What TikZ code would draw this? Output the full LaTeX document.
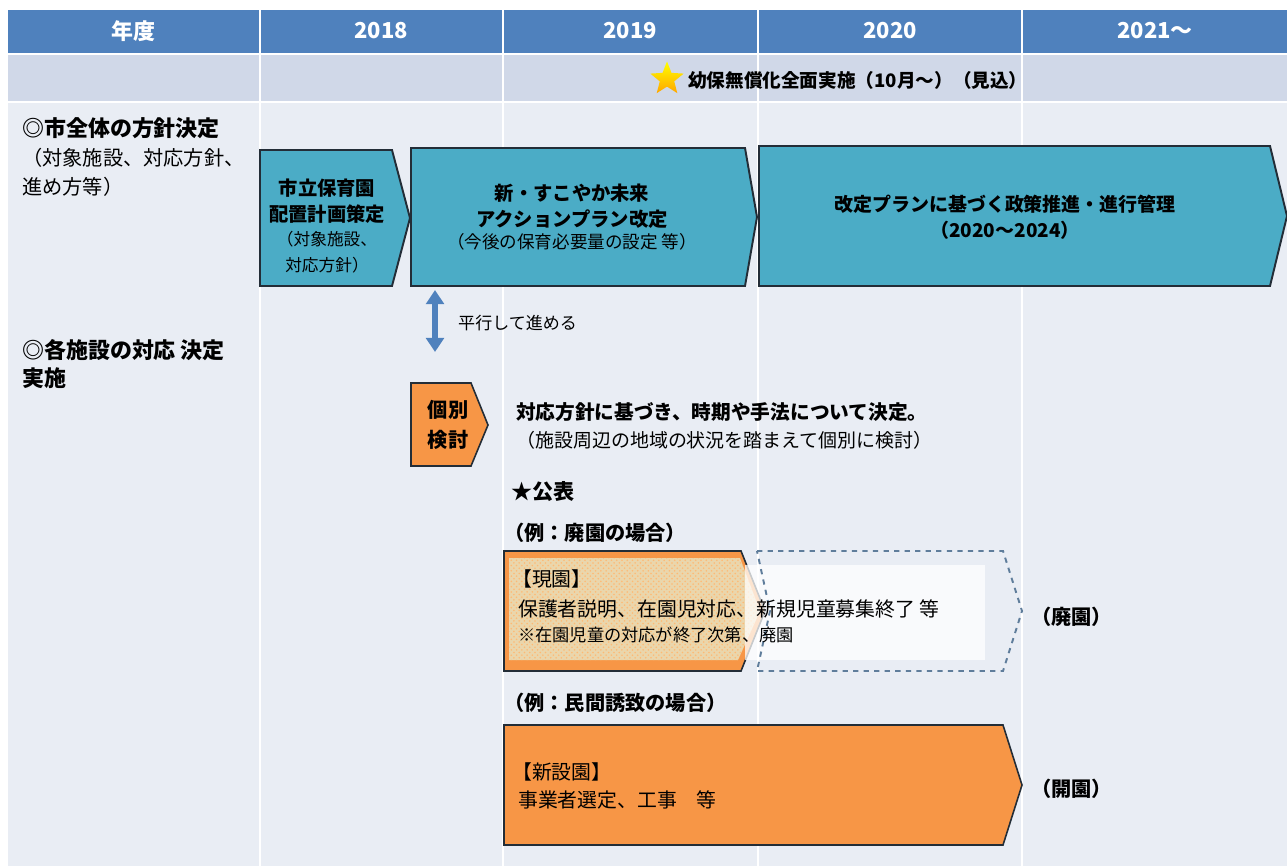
\documentclass[tikz,border=0pt]{standalone}
\usepackage{fontspec}
\setmainfont{Noto Sans CJK JP}
\usetikzlibrary{positioning, arrows.meta, shapes.geometric, patterns}
\definecolor{hdblue}{RGB}{79,129,189}
\definecolor{rowlav}{RGB}{208,216,232}
\definecolor{bodybg}{RGB}{233,237,244}
\definecolor{planteal}{RGB}{75,172,198}
\definecolor{steporange}{RGB}{247,150,70}
\definecolor{edgedark}{RGB}{35,45,55}
\definecolor{dashgray}{RGB}{95,125,155}
\definecolor{beige}{RGB}{234,214,172}
\newcommand{\fsz}[1]{\fontsize{#1}{1.35\dimexpr#1pt\relax}\selectfont}
\tikzset{
    hdcell/.style={text=white, font=\fsz{12.5}\bfseries},
    planbox/.style={fill=planteal, draw=edgedark, line width=1.1pt},
    stepbox/.style={fill=steporange, draw=edgedark, line width=0.9pt},
    planoutline/.style={draw=dashgray, dashed, line width=1.1pt},
    plantext/.style={align=center, font=\fsz{11}\bfseries},
    lefttext/.style={anchor=west, align=left},
    sidenote/.style={anchor=west, font=\fsz{11.5}\bfseries}
}
\begin{document}
\begin{tikzpicture}[x=0.02cm, y=-0.02cm]
\useasboundingbox (0,0) rectangle (1287,866);
\fill[white] (0,0) rectangle (1287,866);
\fill[hdblue] (8,10) rectangle (1287,53);
\fill[rowlav] (8,55) rectangle (1287,101);
\fill[bodybg] (8,103) rectangle (1287,866);
\foreach \xx in {260,503,758,1022}
    \draw[white, line width=1.2pt] (\xx,10) -- (\xx,866);

% header
\node[hdcell] (yearhd) at (133,31) {年度};
\node[hdcell] (y2018) at (381,31) {2018};
\node[hdcell] (y2019) at (630,31) {2019};
\node[hdcell] (y2020) at (890,31) {2020};
\node[hdcell] (y2021) at (1155,31) {2021～};
\node[star, star points=5, star point ratio=2.3, top color=yellow, bottom color=orange!70!yellow,
      minimum size=0.7cm, inner sep=0pt] (freestar) at (667,79) {};
\node[anchor=west, font=\fsz{10.6}\bfseries] (freetext) at (682,80) {幼保無償化全面実施（10月～）（見込）};

% left column
\node[lefttext, font=\fsz{12.5}\bfseries] (cityhd) at (16,128) {◎市全体の方針決定};
\node[lefttext, font=\fontsize{11.5}{16.4}\selectfont] (citysub) at (16,172) {（対象施設、対応方針、\\進め方等）};
\node[lefttext, font=\fontsize{12.5}{16}\selectfont\bfseries] (facilhd) at (16,364) {◎各施設の対応 決定\\実施};

% plans
\draw[planbox] (260,150) -- (392,150) -- (410,218) -- (392,286) -- (260,286) -- cycle;
\node[plantext] (placeplan) at (327,226) {市立保育園\\配置計画策定\\[-1pt]
    {\fsz{9.5}\mdseries （対象施設、}\\{\fsz{9.5}\mdseries 対応方針）}};
\draw[planbox] (411,148) -- (745,148) -- (757,217) -- (745,286) -- (411,286) -- cycle;
\node[plantext] (actionplan) at (572,217) {新・すこやか未来\\アクションプラン改定\\[-2pt]
    {\fsz{10}\mdseries （今後の保育必要量の設定 等）}};
\draw[planbox] (759,146) -- (1270,146) -- (1287,216) -- (1270,286) -- (759,286) -- cycle;
\node[plantext, font=\fsz{10.8}\bfseries] (policyplan) at (1005,217) {改定プランに基づく政策推進・進行管理\\（2020～2024）};

% parallel arrow
\coordinate (partop) at (435,290);
\coordinate (parbot) at (435,352);
\draw[hdblue, line width=3.2pt, {Triangle[width=10pt,length=8pt]}-{Triangle[width=10pt,length=8pt]}] (partop) -- (parbot);
\node[anchor=west, font=\fsz{9.7}] (partext) at (452,323) {平行して進める};

% individual review
\draw[stepbox] (411,383) -- (471,383) -- (488,425) -- (471,466) -- (411,466) -- cycle;
\node[align=center, font=\fontsize{11.5}{17}\selectfont\bfseries] (review) at (448,425) {個別\\検討};
\node[lefttext, font=\fsz{11.2}\bfseries] (reviewa) at (510,412) {対応方針に基づき、時期や手法について決定。};
\node[lefttext, font=\fsz{10.8}] (reviewb) at (510,440) {（施設周辺の地域の状況を踏まえて個別に検討）};
\node[lefttext, font=\fsz{12}\bfseries] (announce) at (505,492) {★公表};

% closing case
\node[lefttext, font=\fsz{11.5}\bfseries] (closecase) at (498,533) {（例：廃園の場合）};
\draw[stepbox] (504,551) -- (741,551) -- (765,611) -- (741,671) -- (504,671) -- cycle;
\fill[beige] (509,558) -- (740,558) -- (760,611) -- (738,660) -- (509,660) -- cycle;
\fill[pattern=crosshatch dots, pattern color=orange!55] (509,558) -- (740,558) -- (760,611) -- (738,660) -- (509,660) -- cycle;
\fill[white, opacity=0.75] (745,565) rectangle (985,660);
\draw[planoutline] (757,551) -- (1003,551) -- (1022,611) -- (1003,671) -- (757,671) -- (770,611) -- cycle;
\node[lefttext, font=\fsz{11.3}] (curhd) at (506,579) {【現園】};
\node[lefttext, font=\fsz{11.3}] (curtext) at (512,609) {保護者説明、在園児対応、新規児童募集終了 等};
\node[lefttext, font=\fsz{9.8}] (curnote) at (512,635) {※在園児童の対応が終了次第、廃園};
\node[sidenote] (closed) at (1025,617) {（廃園）};

% private case
\node[lefttext, font=\fsz{11.5}\bfseries] (privcase) at (498,703) {（例：民間誘致の場合）};
\draw[stepbox] (504,725) -- (1003,725) -- (1022,785) -- (1003,845) -- (504,845) -- cycle;
\node[lefttext, font=\fsz{11.3}] (newhd) at (506,772) {【新設園】};
\node[lefttext, font=\fsz{11.3}] (newtext) at (512,800) {事業者選定、工事　等};
\node[sidenote] (opened) at (1025,789) {（開園）};
\end{tikzpicture}
\end{document}
